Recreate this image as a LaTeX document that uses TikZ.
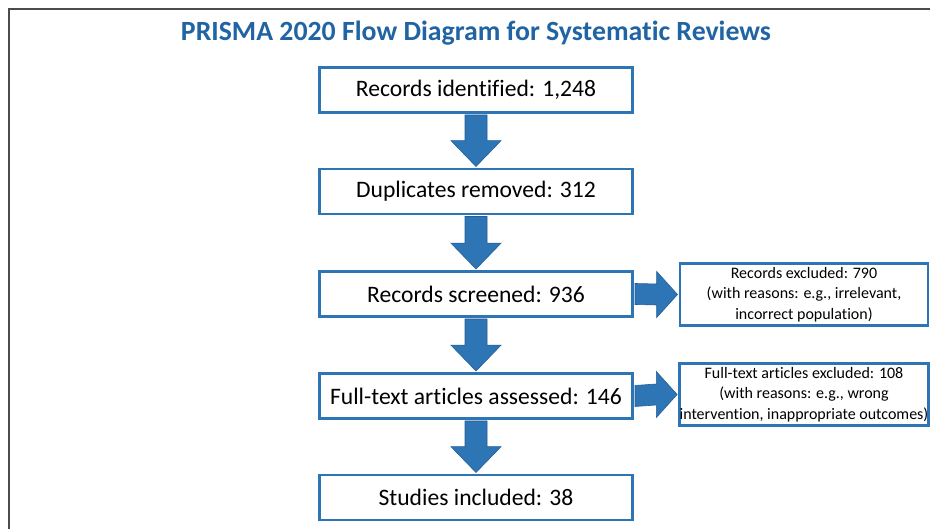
\documentclass[tikz,border=0pt]{standalone}
\usepackage{fontspec}
\setmainfont{Carlito}[Ligatures=NoCommon]
\usetikzlibrary{calc}
\definecolor{boxblue}{RGB}{46,117,182}
\definecolor{titleblue}{RGB}{33,100,163}
\definecolor{arrowedge}{RGB}{36,94,150}
\definecolor{framegray}{RGB}{75,75,75}

% block arrow pointing down from the bottom of #1 to the top of #2
\newcommand\flowdown[2]{%
  \draw[fatarrow] ($(#1.south)+(-11,-1.2)$) -- ($(#2.north)+(-11,27)$)
    -- ($(#2.north)+(-25,27)$) -- ($(#2.north)+(0,1.2)$)
    -- ($(#2.north)+(25,27)$) -- ($(#2.north)+(11,27)$)
    -- ($(#1.south)+(11,-1.2)$) -- cycle;}
% block arrow pointing right from #1 to #2
\newcommand\flowright[2]{%
  \draw[fatarrow] ($(#1.east)+(1.2,10.5)$) -- ($(#2.west)+(-22,10.5)$)
    -- ($(#2.west)+(-22,23)$) -- ($(#2.west)+(-1.2,0)$)
    -- ($(#2.west)+(-22,-23)$) -- ($(#2.west)+(-22,-10.5)$)
    -- ($(#1.east)+(1.2,-10.5)$) -- cycle;}

\begin{document}
\begin{tikzpicture}[x=1pt,y=1pt,
  stage/.style={draw=boxblue, line width=2.6pt, fill=white,
    minimum width=313pt, minimum height=45pt, inner sep=0pt,
    font=\fontsize{23.6}{26}\selectfont},
  excl/.style={draw=boxblue, line width=2.6pt, fill=white,
    minimum width=248pt, minimum height=62pt, inner sep=0pt, align=center,
    font=\fontsize{16}{20.5}\selectfont},
  fatarrow/.style={fill=boxblue, draw=arrowedge, line width=0.6pt, line join=miter}]
\useasboundingbox (0,0) rectangle (930,529);
\fill[white] (0,0) rectangle (930,529);
% page frame
\draw[framegray, line width=1.8pt] (9,-10) |- (945,520);

\node[font=\fontsize{27.8}{30}\selectfont\bfseries, text=titleblue] (title) at (476,496)
  {PRISMA 2020 Flow Diagram for Systematic Reviews};

\node[stage] (ident) at (476,439) {Records identified: 1,248};
\node[stage] (dupl)  at (476,337.5) {Duplicates removed: 312};
\node[stage] (screen) at (476,235) {Records screened: 936};
\node[stage] (full) at (476,133) {Full-text articles assessed: 146};
\node[stage] (incl) at (476,31.5) {Studies included: 38};

\node[excl] (exrec) at (804,234.5) {Records excluded: 790\\(with reasons: e.g., irrelevant,\\incorrect population)};
\node[excl] (exfull) at (804,134.5) {Full-text articles excluded: 108\\(with reasons: e.g., wrong\\intervention, inappropriate outcomes)};

\flowdown{ident}{dupl}
\flowdown{dupl}{screen}
\flowdown{screen}{full}
\flowdown{full}{incl}
\flowright{screen}{exrec}
\flowright{full}{exfull}
\end{tikzpicture}
\end{document}
